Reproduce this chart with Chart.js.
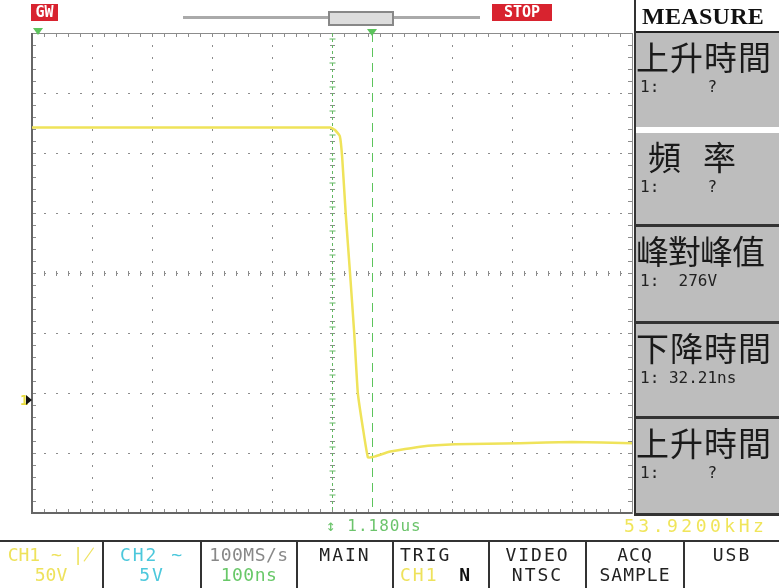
<!DOCTYPE html>
<html>
<head>
<meta charset="utf-8">
<script src="https://cdn.jsdelivr.net/npm/chart.js@4.4.1/dist/chart.umd.min.js"></script>
<style>
  body { margin: 0; background: #fff; }
  #scope { position: relative; width: 779px; height: 588px; overflow: hidden; background: #fff; font-family: "DejaVu Sans Mono", monospace; }
  #chartBox { position: absolute; left: 0; top: 0; width: 779px; height: 588px; }
  .abs { position: absolute; }
  .tag { background: #d8232f; color: #fff; font: bold 15px "DejaVu Sans Mono", monospace; text-align: center; line-height: 17px; }
  #measure { left: 634px; top: 0; width: 145px; height: 516px; border-left: 2px solid #333; }
  #measure .head { font: bold 24px "Liberation Serif", serif; color: #111; padding-left: 6px; height: 31px; line-height: 33px; border-bottom: 2px solid #222; letter-spacing: 0.3px; white-space: nowrap; }
  .mbox { position: absolute; left: 0; width: 145px; background: #bdbdbd; }
  .mbox .big { font: 33px "Noto Sans CJK TC", sans-serif; color: #1a1a1a; line-height: 38px; margin-top: 4px; white-space: nowrap; letter-spacing: 1px; }
  .mbox .small { font: 16px "DejaVu Sans Mono", monospace; color: #222; margin-left: 4px; margin-top: 2px; white-space: pre; }
  #menu { left: 0; top: 540px; width: 779px; height: 48px; border-top: 2px solid #333; }
  .cell { position: absolute; top: 0; height: 48px; border-left: 2px solid #333; text-align: center; font: 18px "DejaVu Sans Mono", monospace; line-height: 20px; padding-top: 3px; box-sizing: border-box; letter-spacing: 2px; white-space: nowrap; }
</style>
</head>
<body>
<div id="scope">
  <div id="chartBox"><canvas id="scopeChart"></canvas></div>

  <div class="abs tag" style="left:31px; top:4px; width:27px; height:17px;">GW</div>
  <div class="abs" style="left:183px; top:16px; width:297px; height:3px; background:#aaa;"></div>
  <div class="abs" style="left:328px; top:11px; width:62px; height:11px; background:#ddd; border:2px solid #888;"></div>
  <div class="abs tag" style="left:492px; top:4px; width:60px; height:17px;">STOP</div>

  <div class="abs" style="left:20px; top:392px; color:#e8dc3c; font:bold 14px 'DejaVu Sans Mono';">1</div>
  <div class="abs" style="left:26px; top:395px; width:0; height:0; border-top:5px solid transparent; border-bottom:5px solid transparent; border-left:6px solid #111;"></div>
  <div class="abs" style="left:33px; top:28px; width:0; height:0; border-left:5px solid transparent; border-right:5px solid transparent; border-top:7px solid #5cc45c;"></div>
  <div class="abs" style="left:367px; top:29px; width:0; height:0; border-left:5px solid transparent; border-right:5px solid transparent; border-top:7px solid #5cc45c;"></div>

  <div class="abs" style="left:326px; top:516px; color:#6cc46c; font:16px 'DejaVu Sans Mono'; letter-spacing:1px;">↕ 1.180us</div>
  <div class="abs" style="left:624px; top:515px; color:#f0e55a; font:18px 'DejaVu Sans Mono'; letter-spacing:3.5px;">53.9200kHz</div>

  <div id="measure" class="abs">
    <div class="head">MEASURE</div>
    <div class="mbox" style="top:33px; height:94px;"><div class="big">上升時間</div><div class="small">1:     ?</div></div>
    <div class="mbox" style="top:133px; height:91px; border-bottom:3px solid #333;"><div class="big" style="padding-left:12px; letter-spacing:22px;">頻率</div><div class="small">1:     ?</div></div>
    <div class="mbox" style="top:227px; height:94px; border-bottom:3px solid #333;"><div class="big" style="letter-spacing:-1px;">峰對峰值</div><div class="small">1:  276V</div></div>
    <div class="mbox" style="top:324px; height:92px; border-bottom:3px solid #333;"><div class="big">下降時間</div><div class="small">1: 32.21ns</div></div>
    <div class="mbox" style="top:419px; height:94px; border-bottom:3px solid #333;"><div class="big">上升時間</div><div class="small">1:     ?</div></div>
  </div>

  <div id="menu" class="abs">
    <div class="cell" style="left:-2px; width:104px; color:#eee25c; letter-spacing:0;">CH1 ~ ∤<br>50V</div>
    <div class="cell" style="left:102px; width:98px; color:#4cc8dc;">CH2 ~<br>5V</div>
    <div class="cell" style="left:200px; width:96px; letter-spacing:0.5px;"><span style="color:#888;">100MS/s</span><br><span style="color:#68c868;">100ns</span></div>
    <div class="cell" style="left:296px; width:96px; color:#222;">MAIN</div>
    <div class="cell" style="left:392px; width:96px; color:#222; text-align:left; padding-left:6px;">TRIG<br><span style="color:#eee25c;">CH1</span> <b style="color:#111; margin-left:8px;">N</b></div>
    <div class="cell" style="left:488px; width:97px; color:#222;">VIDEO<br>NTSC</div>
    <div class="cell" style="left:585px; width:98px; color:#222; letter-spacing:1px;">ACQ<br>SAMPLE</div>
    <div class="cell" style="left:683px; width:96px; color:#222;">USB</div>
  </div>
</div>

<script>
// CH1 trace, 100ns/div, 50V/div
var timeNs = [0, 497, 505, 513, 517, 523, 530, 537, 543, 552, 560, 572, 597, 647, 705, 813, 900, 1000];
var ch1Volts = [227, 227, 225, 220, 202, 154, 106, 56, 6, -25, -48, -47, -43, -39, -37, -36, -35, -36];

// screen grid: 10 x 8 divisions
var xGridNs = [0, 100, 200, 300, 400, 500, 600, 700, 800, 900, 1000];
var yGridVolts = [-94.2, -44.2, 5.8, 55.8, 105.8, 155.8, 205.8, 255.8, 305.8];

// cursors
var cursorNs = [500, 567];

var gridGray = '#8c8c8c';

// minor ticks on borders and center cross, cursor lines
var scopeMarks = {
    id: 'scopeMarks',
    beforeDatasetsDraw: function (chart) {
        var ctx = chart.ctx;
        var xs = chart.scales.x, ys = chart.scales.y;
        var a = chart.chartArea;
        var cx = xs.getPixelForValue(500), cy = ys.getPixelForValue(105.8);
        ctx.save();
        ctx.strokeStyle = gridGray;
        ctx.lineWidth = 1;
        ctx.strokeRect(a.left + 0.5, a.top + 0.5, a.right - a.left, a.bottom - a.top);
        ctx.beginPath();
        for (var t = 0; t <= 1000; t += 20) {
            var px = Math.round(xs.getPixelForValue(t)) + 0.5;
            ctx.moveTo(px, a.top); ctx.lineTo(px, a.top + 4);
            ctx.moveTo(px, a.bottom); ctx.lineTo(px, a.bottom - 4);
            ctx.moveTo(px, cy - 2); ctx.lineTo(px, cy + 3);
        }
        for (var v = -94.2; v <= 306; v += 10) {
            var py = Math.round(ys.getPixelForValue(v)) + 0.5;
            ctx.moveTo(a.left, py); ctx.lineTo(a.left + 4, py);
            ctx.moveTo(a.right, py); ctx.lineTo(a.right - 4, py);
            ctx.moveTo(cx - 2, py); ctx.lineTo(cx + 3, py);
        }
        ctx.stroke();

        // left / bottom frame darker
        ctx.strokeStyle = '#666';
        ctx.lineWidth = 2;
        ctx.beginPath();
        ctx.moveTo(a.left, a.top); ctx.lineTo(a.left, a.bottom); ctx.lineTo(a.right, a.bottom);
        ctx.stroke();

        // cursor 1: green I-beam marks
        var c1 = Math.round(xs.getPixelForValue(cursorNs[0])) + 0.5;
        ctx.strokeStyle = '#62b862';
        ctx.lineWidth = 1;
        ctx.setLineDash([3, 3]);
        ctx.beginPath();
        ctx.moveTo(c1, a.top); ctx.lineTo(c1, a.bottom);
        ctx.stroke();
        ctx.setLineDash([]);
        ctx.beginPath();
        for (var y = a.top + 6; y < a.bottom; y += 24) {
            ctx.moveTo(c1 - 3, y); ctx.lineTo(c1 + 3, y);
        }
        ctx.stroke();

        // cursor 2: dashed green
        var c2 = Math.round(xs.getPixelForValue(cursorNs[1])) + 0.5;
        ctx.strokeStyle = '#5cc45c';
        ctx.setLineDash([9, 6]);
        ctx.beginPath();
        ctx.moveTo(c2, a.top); ctx.lineTo(c2, a.bottom);
        ctx.stroke();
        ctx.restore();
    }
};

var ctx = document.getElementById('scopeChart').getContext('2d');
var scopeChart = new Chart(ctx, {
    type: 'line',
    data: {
        datasets: [{
            label: 'CH1',
            data: timeNs.map(function (t, i) { return { x: t, y: ch1Volts[i] }; }),
            borderColor: '#efe35a',
            borderWidth: 2.5,
            pointRadius: 0,
            tension: 0.1,
            fill: false
        }]
    },
    options: {
        responsive: true,
        maintainAspectRatio: false,
        animation: false,
        layout: { padding: { left: 32, top: 33, right: 147, bottom: 75 } },
        plugins: { legend: { display: false }, tooltip: { enabled: false } },
        scales: {
            x: {
                type: 'linear',
                min: 0,
                max: 1000,
                afterBuildTicks: function (scale) {
                    scale.ticks = xGridNs.map(function (v) { return { value: v }; });
                },
                ticks: { display: false },
                grid: { color: gridGray, lineWidth: 1, drawTicks: false },
                border: { display: false, dash: [2, 10] }
            },
            y: {
                type: 'linear',
                min: -94.2,
                max: 305.8,
                afterBuildTicks: function (scale) {
                    scale.ticks = yGridVolts.map(function (v) { return { value: v }; });
                },
                ticks: { display: false },
                grid: { color: gridGray, lineWidth: 1, drawTicks: false },
                border: { display: false, dash: [2, 10] }
            }
        }
    },
    plugins: [scopeMarks]
});
</script>
</body>
</html>
